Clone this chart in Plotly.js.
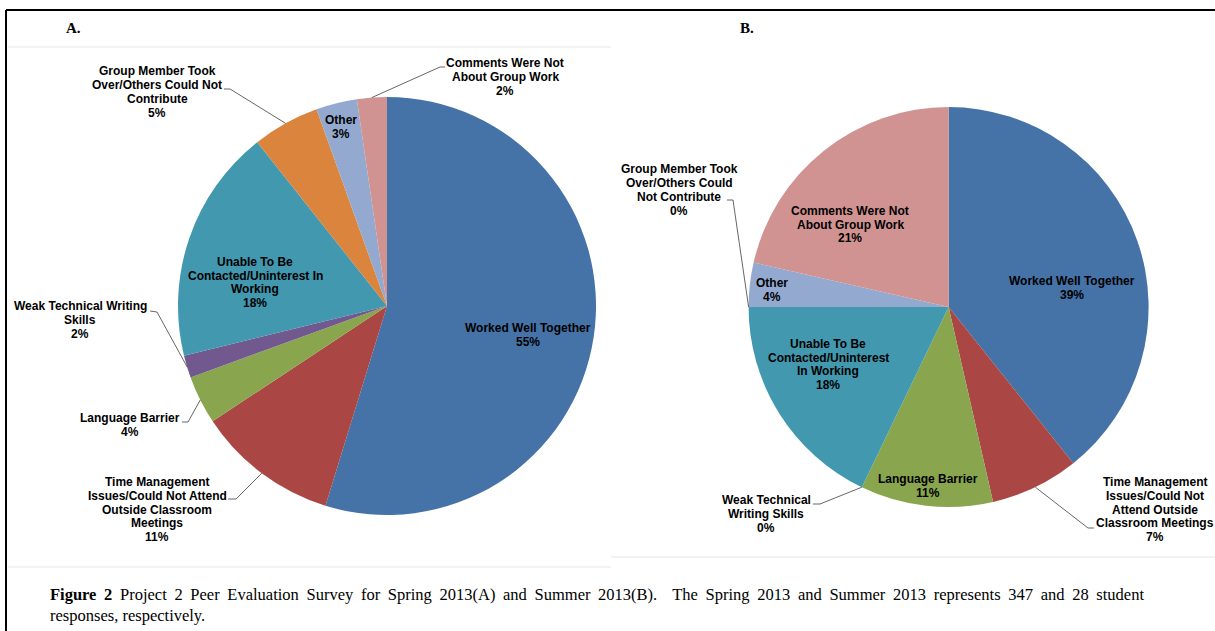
<!DOCTYPE html>
<html>
<head>
<meta charset="utf-8">
<script src="https://cdn.plot.ly/plotly-3.0.1.min.js"></script>
<style>
html, body { margin: 0; padding: 0; background: #fff; }
#chart { width: 1215px; height: 631px; }
</style>
</head>
<body>
<div id="chart"></div>
<script>
// Categorias, en el orden de la figura (sentido horario desde las 12)
var categorias = ["Worked Well Together",
  "Time Management Issues/Could Not Attend Outside Classroom Meetings",
  "Language Barrier", "Weak Technical Writing Skills",
  "Unable To Be Contacted/Uninterest In Working",
  "Group Member Took Over/Others Could Not Contribute",
  "Other", "Comments Were Not About Group Work"];

// Respuestas: Spring 2013 (347) y Summer 2013 (28)
var spring2013 = [190, 38, 13, 6, 63, 18, 11, 8];
var summer2013 = [11, 2, 3, 0, 5, 0, 1, 6];

// Etiquetas tal como estan cortadas en cada torta
var etiquetasA = ["Worked Well Together",
  "Time Management<br>Issues/Could Not Attend<br>Outside Classroom<br>Meetings",
  "Language Barrier", "Weak Technical Writing<br>Skills",
  "Unable To Be<br>Contacted/Uninterest In<br>Working",
  "Group Member Took<br>Over/Others Could Not<br>Contribute",
  "Other", "Comments Were Not<br>About Group Work"];
var etiquetasB = ["Worked Well Together",
  "Time Management<br>Issues/Could Not<br>Attend Outside<br>Classroom Meetings",
  "Language Barrier", "Weak Technical<br>Writing Skills",
  "Unable To Be<br>Contacted/Uninterest<br>In Working",
  "Group Member Took<br>Over/Others Could<br>Not Contribute",
  "Other", "Comments Were Not<br>About Group Work"];

var colores = ["#4572A7", "#AA4643", "#89A54E", "#71588F", "#4198AF", "#DB843D", "#93A9CF", "#D19392"];

var pie1 = "Figure 2";
var pieTexto1 = " Project 2 Peer Evaluation Survey for Spring 2013(A) and Summer 2013(B).  The Spring 2013 and Summer 2013 represents 347 and 28 student";
var pieTexto2 = "responses, respectively.";

/* ---- posiciones (pixeles de la pagina) ---- */
var W = 1215, H = 631;
function px(x) { return x / W; }
function py(y) { return 1 - y / H; }

var tortaA = {cx: 387, cy: 306, r: 209};
var tortaB = {cx: 948.6, cy: 307, r: 200};

// centro de cada bloque de texto
var posA = [[528, 335], [157, 509.5], [130, 425], [80, 320], [255, 282.5], [157, 92], [341, 127], [505, 77]];
var posB = [[1072, 288], [1155, 509.5], [928, 486], [766, 514], [828, 364.5], [679, 190], [772, 290], [850, 224.5]];

// codos de las lineas guia (desde el texto hacia la torta)
var guiasA = {1: [[228, 499], [236, 499]], 2: [[182, 422], [188, 422]], 3: [[150, 311], [157, 312]],
              5: [[224, 89], [230, 89]], 7: [[445, 67], [440, 67]]};
var guiasB = {1: [[1094, 528], [1088, 528]], 3: [[813, 504], [820, 504]], 5: [[727, 200], [733, 200]]};

function dominio(t) {
  return {x: [px(t.cx - t.r), px(t.cx + t.r)], y: [py(t.cy + t.r), py(t.cy - t.r)]};
}

// punto del borde en la mitad de cada porcion
function anclas(valores, t) {
  var total = valores.reduce(function (a, b) { return a + b; }, 0);
  var acum = 0, out = [];
  valores.forEach(function (v) {
    var ang = 2 * Math.PI * (acum + v / 2) / total;
    out.push([t.cx + t.r * Math.sin(ang), t.cy - t.r * Math.cos(ang)]);
    acum += v;
  });
  return out;
}

var fuente = {family: "Liberation Sans, Arial, sans-serif", size: 12, color: "#000", weight: "bold"};
var annotations = [];
var shapes = [];

function rotular(valores, etiquetas, pos, guias, t) {
  var total = valores.reduce(function (a, b) { return a + b; }, 0);
  var an = anclas(valores, t);
  valores.forEach(function (v, i) {
    var lineas = etiquetas[i].split("<br>");
    lineas.push(Math.round(v / total * 100) + "%");
    var lh = 13.8;
    var y0 = pos[i][1] - (lineas.length - 1) * lh / 2;
    lineas.forEach(function (l, k) {
      annotations.push({xref: "paper", yref: "paper", x: px(pos[i][0]), y: py(y0 + k * lh),
        text: l, showarrow: false, xanchor: "center", yanchor: "middle", font: fuente});
    });
    if (guias[i]) {
      var p = guias[i].concat([an[i]]);
      var d = p.map(function (q, k) { return (k ? "L" : "M") + px(q[0]) + "," + py(q[1]); }).join(" ");
      shapes.push({type: "path", xref: "paper", yref: "paper", path: d,
        line: {color: "#3f3f3f", width: 0.8}});
    }
  });
}

rotular(spring2013, etiquetasA, posA, guiasA, tortaA);
rotular(summer2013, etiquetasB, posB, guiasB, tortaB);

function lineaPx(x0, y0, x1, y1, color, ancho) {
  shapes.push({type: "line", xref: "paper", yref: "paper", x0: px(x0), y0: py(y0), x1: px(x1), y1: py(y1),
    line: {color: color, width: ancho}});
}
// marco de la figura y bordes suaves de cada grafico
lineaPx(6, 10, 1215, 10, "#000", 2);
lineaPx(6, 10, 6, 631, "#000", 2);
lineaPx(8, 47, 611, 47, "#e6e6e6", 1);
lineaPx(8, 567, 611, 567, "#e6e6e6", 1);
lineaPx(611, 557, 1215, 557, "#e6e6e6", 1);

var letra = {family: "Liberation Serif, Times New Roman, serif", size: 15, color: "#000", weight: "bold"};
annotations.push({xref: "paper", yref: "paper", x: px(64), y: py(28), text: "A.", showarrow: false,
  xanchor: "left", yanchor: "middle", font: letra});
annotations.push({xref: "paper", yref: "paper", x: px(738), y: py(28), text: "B.", showarrow: false,
  xanchor: "left", yanchor: "middle", font: letra});

var serif = {family: "Liberation Serif, Times New Roman, serif", size: 16.5, color: "#000"};
annotations.push({xref: "paper", yref: "paper", x: px(48), y: py(594), text: "<b>" + pie1 + "</b>" + pieTexto1,
  showarrow: false, xanchor: "left", yanchor: "middle", font: serif});
annotations.push({xref: "paper", yref: "paper", x: px(48), y: py(615), text: pieTexto2,
  showarrow: false, xanchor: "left", yanchor: "middle", font: serif});

var comun = {type: "pie", sort: false, direction: "clockwise", rotation: 0, textinfo: "none",
  hoverinfo: "label+percent", showlegend: false};

var data = [
  Object.assign({}, comun, {labels: categorias, values: spring2013, domain: dominio(tortaA),
    marker: {colors: colores, line: {width: 0}}}),
  Object.assign({}, comun, {labels: categorias, values: summer2013, domain: dominio(tortaB),
    marker: {colors: colores, line: {width: 0}}})
];

var layout = {
  width: W, height: H,
  margin: {l: 0, r: 0, t: 0, b: 0},
  paper_bgcolor: "#fff",
  showlegend: false,
  annotations: annotations,
  shapes: shapes
};

Plotly.newPlot("chart", data, layout, {displayModeBar: false, staticPlot: true}).then(function () {
  // texto justificado del pie de figura (48 a 1142 px): espacio entre palabras
  var textos = document.querySelectorAll(".annotation-text");
  textos.forEach(function (t) {
    if (t.textContent.indexOf("Figure 2") === 0) {
      var ancho = t.getComputedTextLength();
      var huecos = t.textContent.split(" ").length - 1;
      var extra = (1094 - ancho) / huecos;
      if (extra > 0) {
        t.style.wordSpacing = extra + "px";
        // el texto esta centrado: correr la mitad de lo agregado
        var x = parseFloat(t.getAttribute("x")) || 0;
        t.setAttribute("x", x + extra * huecos / 2);
      }
    }
  });
});
</script>
</body>
</html>
